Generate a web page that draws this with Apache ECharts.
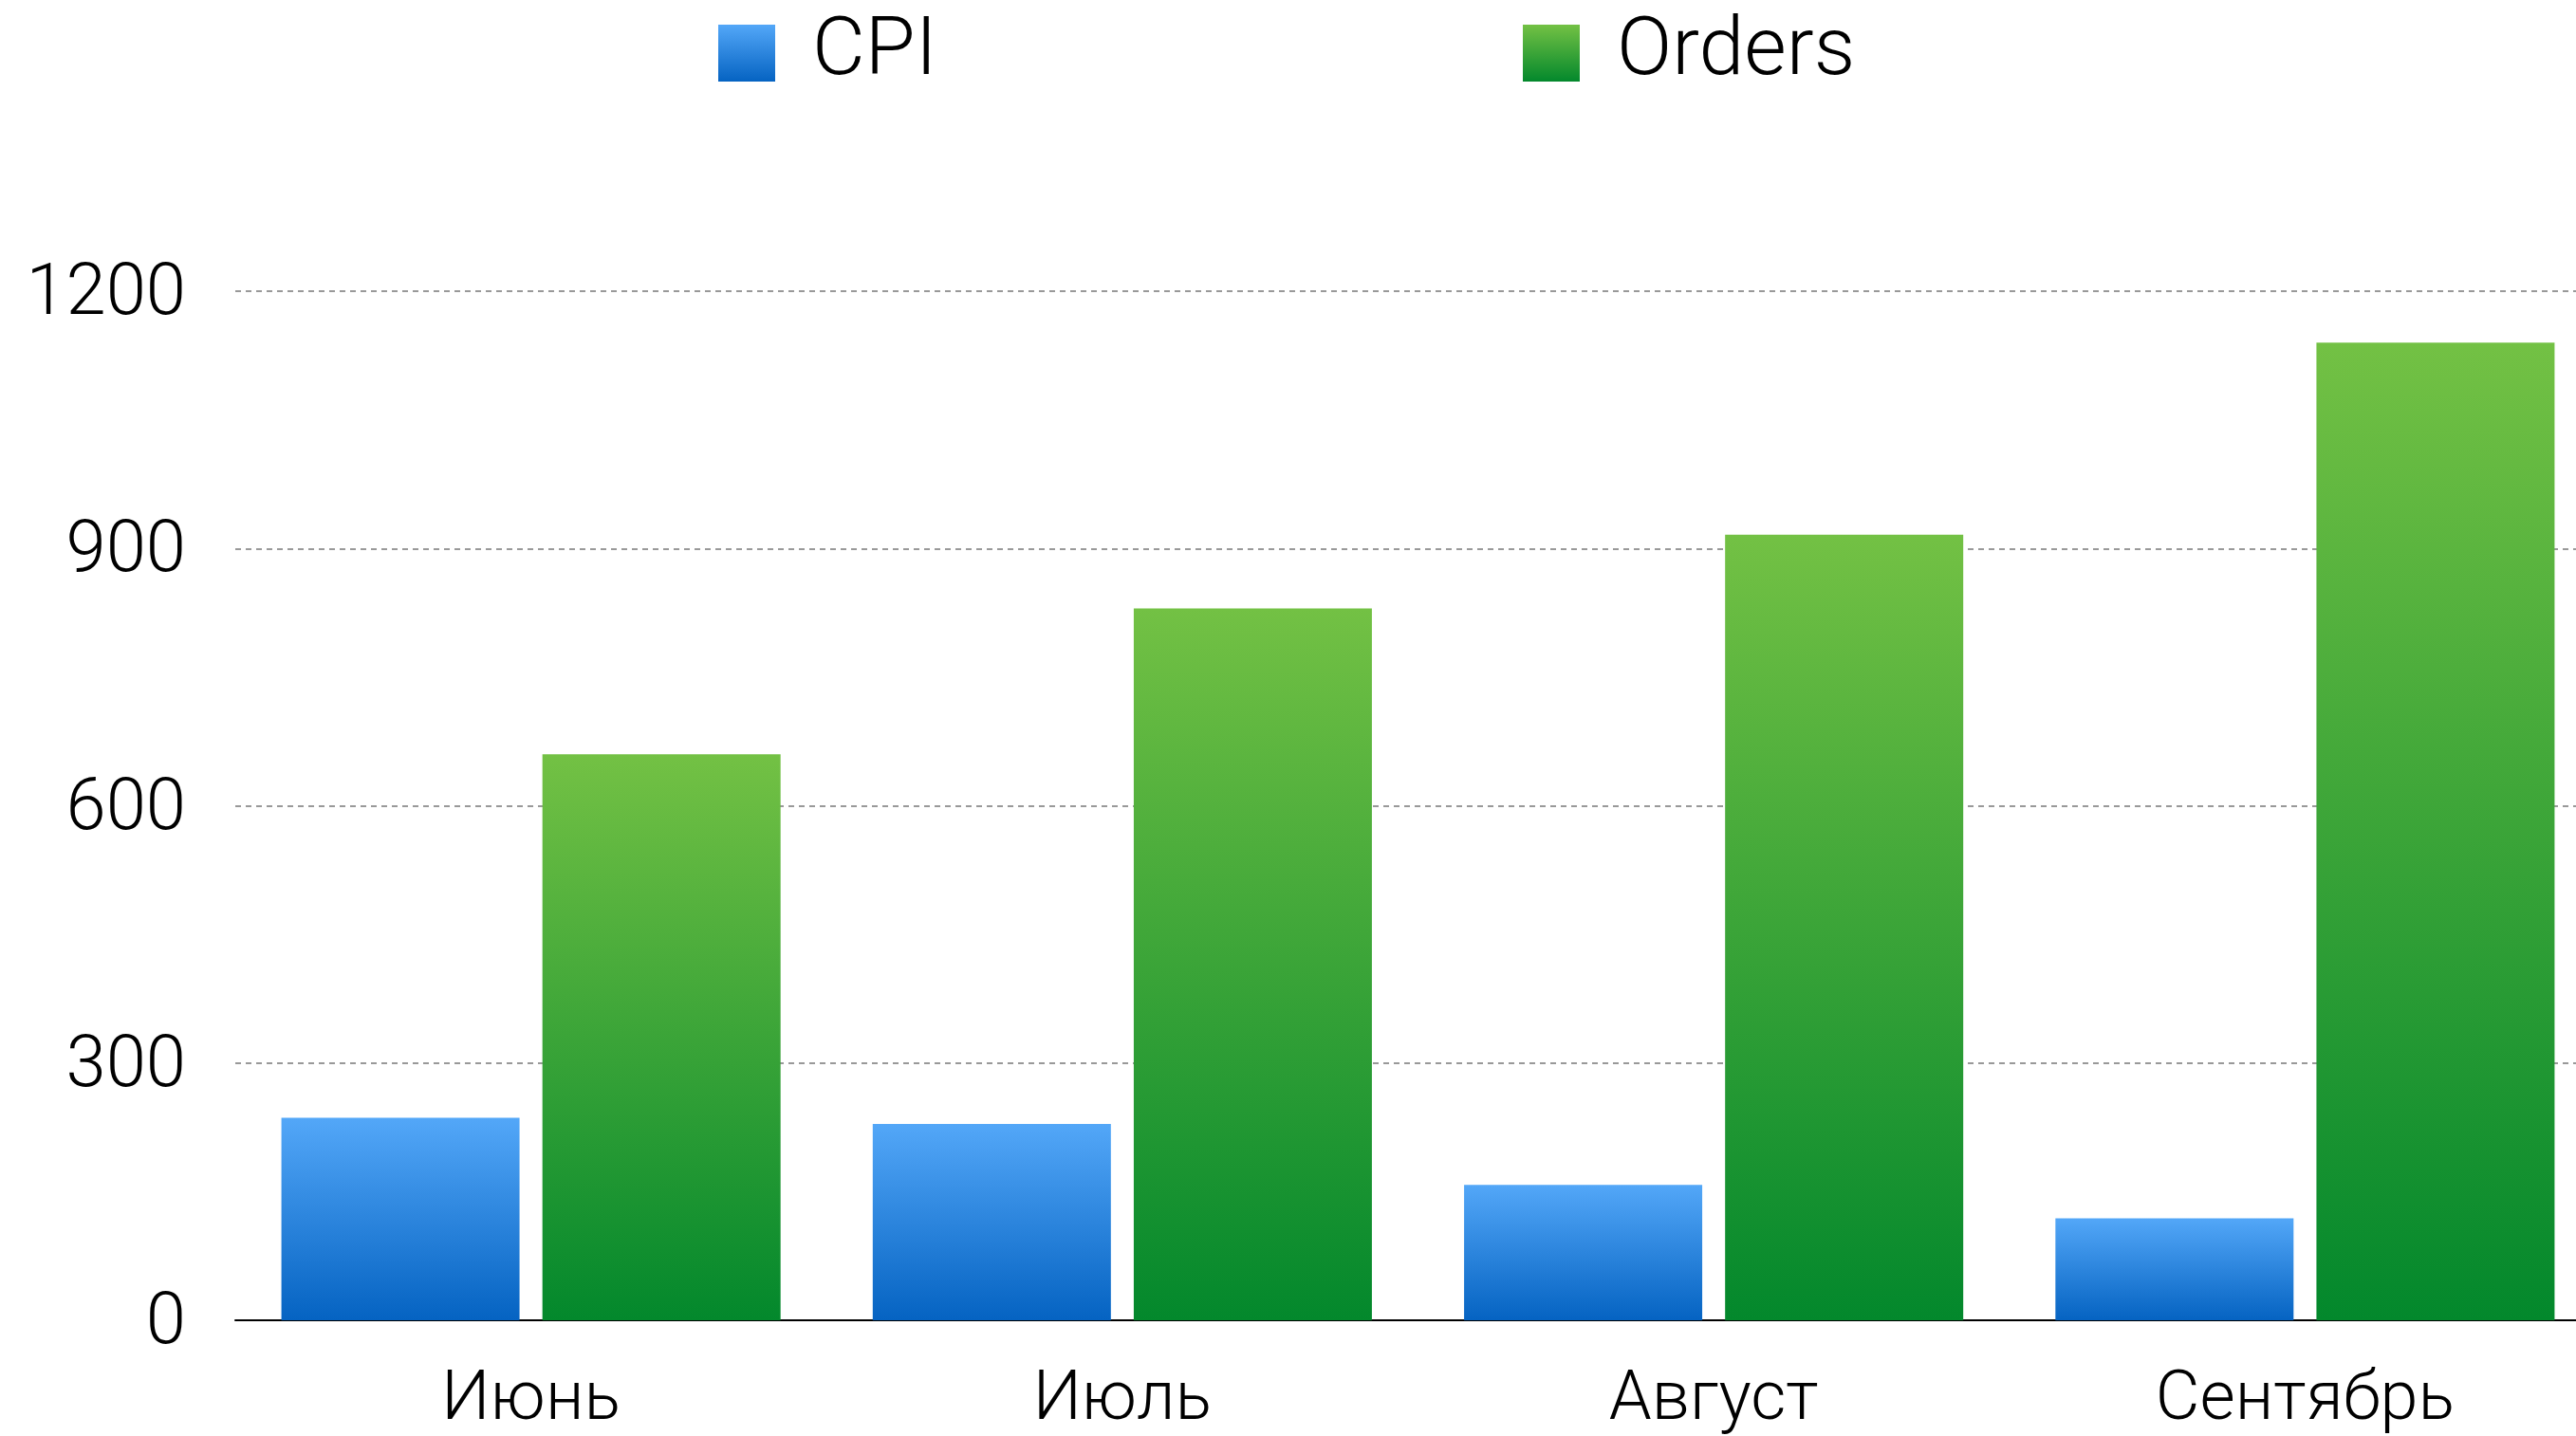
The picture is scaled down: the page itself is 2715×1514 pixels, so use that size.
<!DOCTYPE html>
<html>
<head>
<meta charset="utf-8">
<script src="https://cdn.jsdelivr.net/npm/echarts@6/dist/echarts.min.js"></script>
<style>
  html, body { margin: 0; padding: 0; background: #ffffff; overflow: hidden; }
  /* a little wider than the window: the last group runs past the right edge, as in the original */
  #chart { width: 2745px; height: 1514px; }
</style>
</head>
<body>
<div id="chart"></div>
<script>
const months = ["Июнь", "Июль", "Август", "Сентябрь"];
const cpiValues = [236, 229, 158, 119];
const orderValues = [660, 830, 916, 1140];
const seriesNames = ["CPI", "Orders"];

const fontFamily = "Roboto, 'Liberation Sans', sans-serif";

function vGradient(top, bottom) {
  return new echarts.graphic.LinearGradient(0, 0, 0, 1, [
    { offset: 0, color: top },
    { offset: 1, color: bottom },
  ]);
}

const blue = vGradient("#53a7f8", "#0563c2");
const green = vGradient("#73c144", "#03882c");

const legendText = { color: "#000", fontSize: 86, fontFamily, fontWeight: 300, padding: [0, 0, 0, 34] };

function legendFor(name, left) {
  return {
    data: [name],
    left,
    top: 8,
    itemWidth: 60,
    itemHeight: 60,
    itemGap: 0,
    icon: "rect",
    textStyle: legendText,
  };
}

const chart = echarts.init(document.getElementById("chart"), null, { renderer: "canvas" });

chart.setOption({
  animation: false,
  backgroundColor: "#ffffff",
  textStyle: { fontFamily },
  legend: [legendFor(seriesNames[0], 752), legendFor(seriesNames[1], 1600)],
  grid: { left: 248, right: 4, top: 307, bottom: 121, containLabel: false },
  xAxis: {
    type: "category",
    data: months,
    axisLine: { show: true, lineStyle: { color: "#000", width: 2 } },
    axisTick: { show: false },
    axisLabel: {
      color: "#000",
      fontSize: 72,
      fontFamily,
      fontWeight: 300,
      margin: 50,
    },
  },
  yAxis: {
    type: "value",
    min: 0,
    max: 1200,
    interval: 300,
    axisLine: { show: false },
    axisTick: { show: false },
    axisLabel: {
      color: "#000",
      margin: 52,
      formatter: (v) => `{n|${v}}`,
      rich: {
        n: { fontSize: 76, fontFamily, fontWeight: 300, color: "#000", padding: [10, 0, 0, 0] },
      },
    },
    splitLine: {
      show: true,
      lineStyle: { color: "#999999", width: 2, type: [6, 5] },
    },
  },
  series: [
    {
      name: seriesNames[0],
      type: "bar",
      data: cpiValues,
      barWidth: 251,
      barGap: "9.6%",
      itemStyle: { color: blue },
    },
    {
      name: seriesNames[1],
      type: "bar",
      data: orderValues,
      barWidth: 251,
      barGap: "9.6%",
      itemStyle: { color: green },
    },
  ],
});
</script>
</body>
</html>
